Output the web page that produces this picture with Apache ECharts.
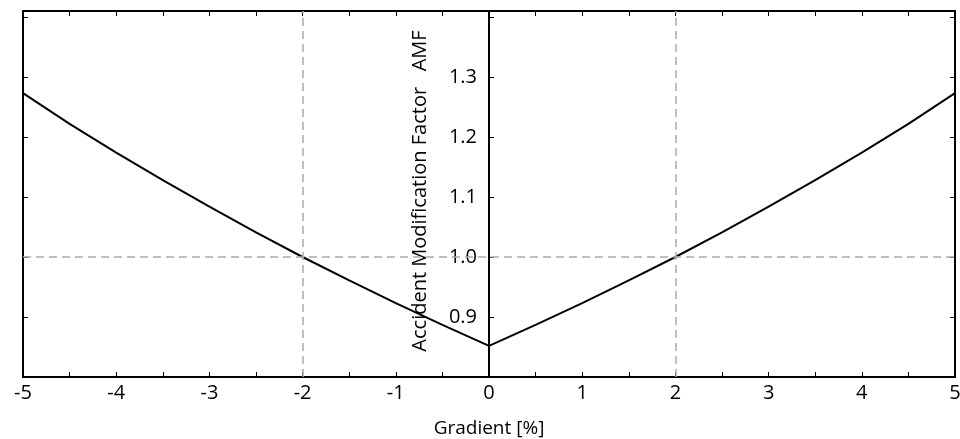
<!DOCTYPE html>
<html>
<head>
<meta charset="utf-8">
<script src="https://cdn.jsdelivr.net/npm/echarts@6/dist/echarts.min.js"></script>
<style>html,body{margin:0;padding:0;background:#fff}#c{width:960px;height:439px}</style>
</head>
<body>
<div id="c"></div>
<script>
var gradient = [-5, -4.5, -4, -3.5, -3, -2.5, -2, -1.5, -1, -0.5, 0, 0.5, 1, 1.5, 2, 2.5, 3, 3.5, 4, 4.5, 5];
var amf = [1.273, 1.222, 1.174, 1.128, 1.084, 1.041, 1.000, 0.961, 0.923, 0.887, 0.852, 0.887, 0.923, 0.961, 1.000, 1.041, 1.084, 1.128, 1.174, 1.222, 1.273];
var refX = [-2, 2];
var refY = [1.0];
var xTitle = 'Gradient [%]';
var yTitle = 'Accident Modification Factor   AMF';

var FONT = 'Open Sans';
var chart = echarts.init(document.getElementById('c'), null, {renderer: 'canvas'});
var pts = gradient.map(function (g, i) { return [g, amf[i]]; });
var mlData = refX.map(function (v) { return {xAxis: v}; }).concat(refY.map(function (v) { return {yAxis: v}; }));

var yCommon = {
  type: 'value', min: 0.8, max: 1.41, interval: 0.1,
  splitLine: {show: false},
  axisLine: {show: true, onZero: false, lineStyle: {color: '#000', width: 2}},
  axisTick: {show: true, inside: true, length: 5, lineStyle: {color: '#000', width: 1}},
  axisLabel: {show: false}
};
var xCommon = {
  type: 'value', min: -5, max: 5, interval: 1,
  splitLine: {show: false},
  axisLine: {show: true, onZero: false, lineStyle: {color: '#000', width: 2}},
  axisTick: {show: true, inside: true, length: 5, lineStyle: {color: '#000', width: 1}},
  minorTick: {show: true, splitNumber: 2, length: 5, lineStyle: {color: '#000', width: 1}},
  axisLabel: {show: false}
};

chart.setOption({
  animation: false,
  backgroundColor: '#fff',
  grid: [
    {left: 23, right: 5, top: 11, bottom: 62, containLabel: false, outerBoundsMode: 'none'},
    {left: 489, right: 5, top: 11, bottom: 62, containLabel: false, outerBoundsMode: 'none'}
  ],
  xAxis: [
    Object.assign({}, xCommon, {
      gridIndex: 0, position: 'bottom',
      name: xTitle, nameLocation: 'middle', nameGap: 42,
      nameTextStyle: {fontFamily: FONT, fontSize: 19, color: '#000'},
      axisLabel: {show: true, margin: 6, fontFamily: FONT, fontSize: 20, color: '#000',
        formatter: function (v) { return String(v); }}
    }),
    Object.assign({}, xCommon, {gridIndex: 0, position: 'top'}),
    {type: 'value', gridIndex: 1, min: 0, max: 5, show: false}
  ],
  yAxis: [
    Object.assign({}, yCommon, {gridIndex: 0, position: 'left'}),
    Object.assign({}, yCommon, {gridIndex: 0, position: 'right'}),
    Object.assign({}, yCommon, {
      gridIndex: 1, position: 'left',
      axisLabel: {show: true, margin: 12, fontFamily: FONT, fontSize: 20, color: '#000',
        formatter: function (v) { return (v > 0.85 && v < 1.35) ? v.toFixed(1) : ''; }}
    })
  ],
  graphic: [{
    type: 'text', x: 420, y: 191, rotation: Math.PI / 2,
    style: {text: yTitle, fontFamily: FONT, fontSize: 20, fill: '#000', textAlign: 'center', textVerticalAlign: 'middle'}
  }],
  series: [{
    type: 'line', data: pts, xAxisIndex: 0, yAxisIndex: 0,
    showSymbol: false, symbol: 'none', smooth: false,
    lineStyle: {color: '#000', width: 2},
    markLine: {
      silent: true, symbol: ['none', 'none'], label: {show: false},
      lineStyle: {color: '#aaa', type: [8, 5], width: 1.5},
      data: mlData
    },
    z: 3
  }]
});
</script>
</body>
</html>
